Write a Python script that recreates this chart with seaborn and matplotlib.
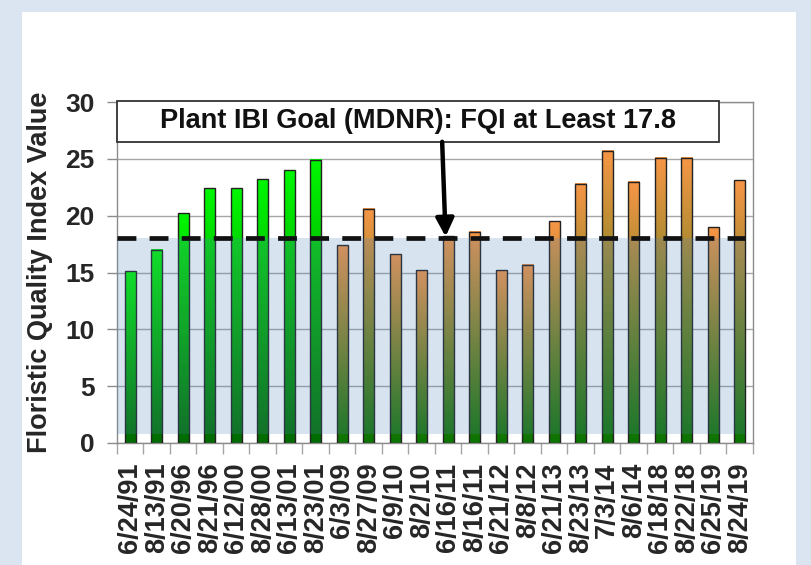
import matplotlib
matplotlib.use("Agg")
import matplotlib.pyplot as plt
import numpy as np
import pandas as pd
import seaborn as sns
from matplotlib.colors import LinearSegmentedColormap
from matplotlib.patches import Rectangle

dates = ["6/24/91", "8/13/91", "6/20/96", "8/21/96", "6/12/00", "8/28/00",
         "6/13/01", "8/23/01", "6/3/09", "8/27/09", "6/9/10", "8/2/10",
         "6/16/11", "8/16/11", "6/21/12", "8/8/12", "6/21/13", "8/23/13",
         "7/3/14", "8/6/14", "6/18/18", "8/22/18", "6/25/19", "8/24/19"]
fqi = [15.1, 17.0, 20.2, 22.4, 22.4, 23.2, 24.0, 24.9, 17.4, 20.6, 16.6, 15.2,
       18.2, 18.6, 15.2, 15.7, 19.5, 22.8, 25.7, 23.0, 25.1, 25.1, 19.0, 23.1]
period = ["early"] * 8 + ["recent"] * 16
goal = 18.0
goal_text = "Plant IBI Goal (MDNR): FQI at Least 17.8"

grad_colors = {
    "early": ["#006a00", "#00f800"],
    "recent": ["#0a7400", "#f79646"],
}

df = pd.DataFrame({"date": dates, "fqi": fqi, "period": period})

sns.set_theme(style="white")
plt.rcParams["font.family"] = ["Liberation Sans", "DejaVu Sans"]
plt.rcParams["font.weight"] = "bold"

fig = plt.figure(figsize=(8.12, 5.65), dpi=100)
fig.patch.set_facecolor("#dbe5f1")
fig.add_artist(Rectangle((22 / 812, 0), (796 - 22) / 812, 1 - 12 / 565,
                         transform=fig.transFigure, facecolor="white",
                         edgecolor="none", zorder=0))
ax = fig.add_axes([117 / 812, 1 - 443 / 565, (753 - 117) / 812, (443 - 102) / 565])
ax.set_facecolor("white")

sns.barplot(data=df, x="date", y="fqi", color="#888888", width=0.42,
            edgecolor="#222222", linewidth=1.0, ax=ax, zorder=3)

# gradient fill for each bar (bottom -> top)
grad = np.linspace(0, 1, 256).reshape(-1, 1)
for patch, grp in zip(ax.patches, df["period"]):
    x0, w, h = patch.get_x(), patch.get_width(), patch.get_height()
    cmap = LinearSegmentedColormap.from_list(grp, grad_colors[grp])
    ax.imshow(grad, extent=[x0, x0 + w, 0, h], origin="lower", aspect="auto",
              cmap=cmap, zorder=2.5, interpolation="bilinear")
    patch.set_facecolor("none")

# shaded band below the goal and dashed goal line
ax.fill_between([-0.5, 23.2], 0.8, goal, color="#4f81bd", alpha=0.22,
                linewidth=0, zorder=4)
ax.plot([-0.5, 23.2], [goal, goal], color="#111111", lw=3.4,
        linestyle=(0, (4.0, 2.8)), zorder=5)

ax.set_xlim(-0.5, len(dates) - 0.5)
ax.set_ylim(0, 30)
ax.set_yticks(range(0, 31, 5))
ax.grid(axis="y", color="#a6a6a6", lw=1.0, zorder=0)
ax.set_axisbelow(True)

for sp in ax.spines.values():
    sp.set_color("#8c8c8c")
    sp.set_linewidth(1.0)

ax.tick_params(axis="y", which="major", left=True, length=7, width=1,
               color="#8c8c8c", pad=9, labelsize=19)
ax.set_xticks(np.arange(len(dates) + 1) - 0.5, minor=True)
ax.tick_params(axis="x", which="minor", bottom=True, length=8, width=1,
               color="#a6a6a6")
ax.tick_params(axis="x", which="major", bottom=False, length=0, pad=14,
               labelsize=19.5)
ax.set_xticks(range(len(dates)))
ax.set_xticklabels(dates, rotation=90, va="top", ha="center", fontweight="bold")
for lab in ax.get_yticklabels():
    lab.set_fontweight("bold")

ax.set_xlabel("")
ax.set_ylabel("Floristic Quality Index Value", fontsize=19.5, fontweight="bold",
              labelpad=9)

# annotation box with arrow to the 6/16/11 bar
ax.add_patch(Rectangle((-0.5, 26.5), 22.72, 3.6, facecolor="white",
                       edgecolor="#333333", lw=1.3, zorder=6, clip_on=False))
ax.text(10.86, 28.3, goal_text, ha="center", va="center", fontsize=19.5,
        fontweight="bold", color="#111111", zorder=7)
ax.annotate("", xy=(11.9, 18.15), xytext=(11.77, 26.5),
            arrowprops=dict(arrowstyle="-|>,head_length=0.9,head_width=0.45",
                            color="black", lw=3.2, shrinkA=0, shrinkB=0),
            zorder=7)

fig.savefig("out.png", dpi=100, facecolor=fig.get_facecolor())
